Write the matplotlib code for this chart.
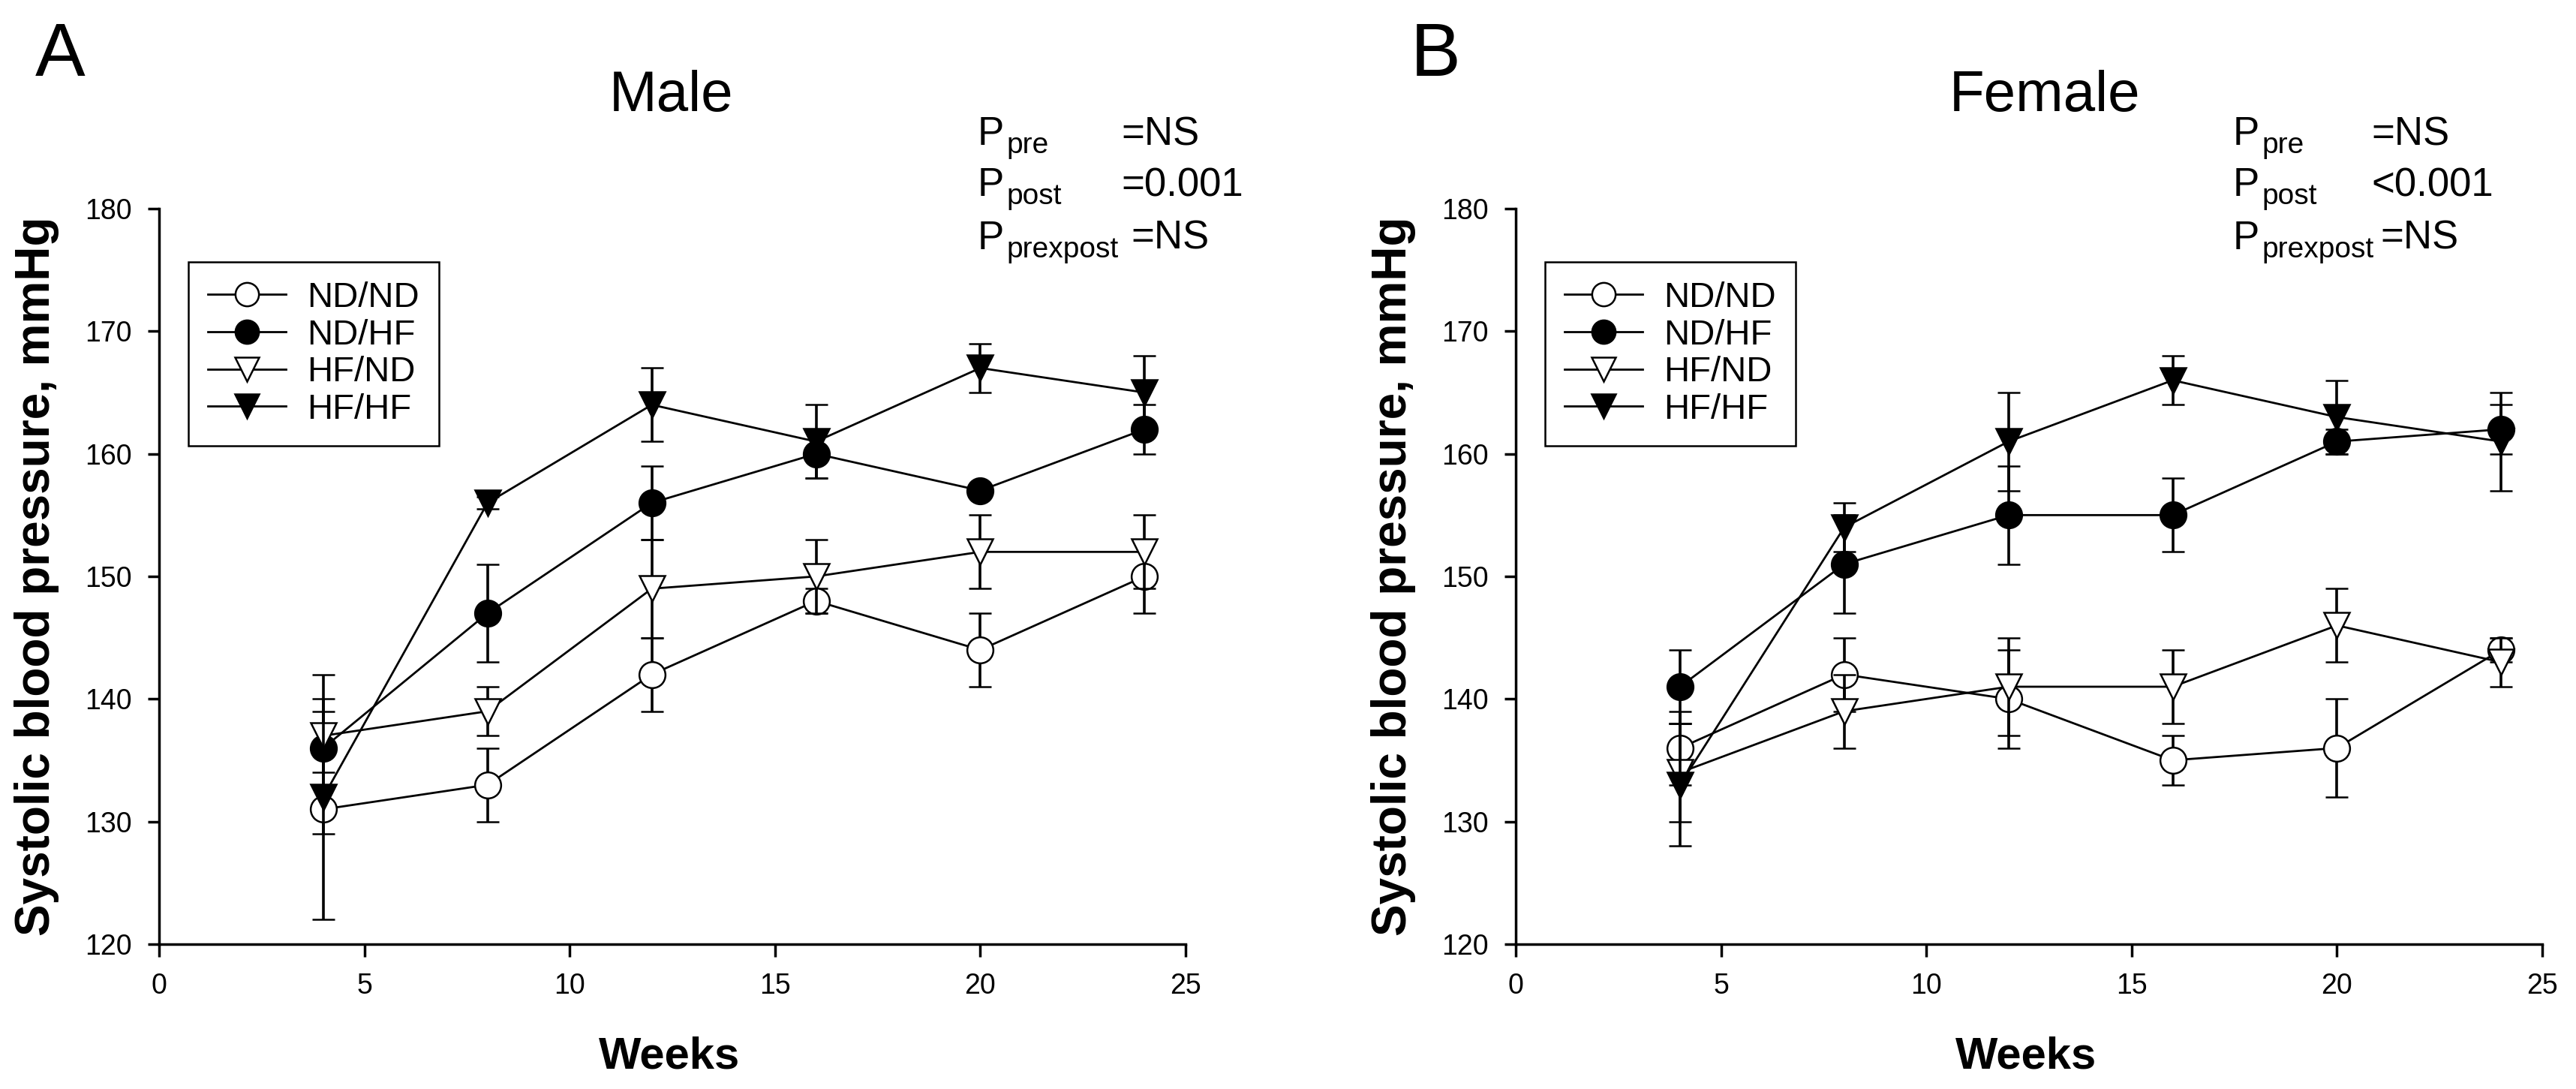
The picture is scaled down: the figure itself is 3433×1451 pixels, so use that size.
import matplotlib
matplotlib.use("Agg")
import matplotlib.pyplot as plt

plt.rcParams['font.family'] = ['Liberation Sans', 'DejaVu Sans']

# ---- data ----
weeks = [4, 8, 12, 16, 20, 24]
groups = ['ND/ND', 'ND/HF', 'HF/ND', 'HF/HF']

male_ndnd = [131, 133, 142, 148, 144, 150]
male_ndnd_err = [2, 3, 3, 1, 3, 3]
male_ndhf = [136, 147, 156, 160, 157, 162]
male_ndhf_err = [3, 4, 3, 2, 0.5, 2]
male_hfnd = [137, 139, 149, 150, 152, 152]
male_hfnd_err = [3, 2, 4, 3, 3, 3]
male_hfhf = [132, 156, 164, 161, 167, 165]
male_hfhf_err = [10, 0.5, 3, 3, 2, 3]

female_ndnd = [136, 142, 140, 135, 136, 144]
female_ndnd_err = [3, 3, 4, 2, 4, 1]
female_ndhf = [141, 151, 155, 155, 161, 162]
female_ndhf_err = [3, 4, 4, 3, 1, 2]
female_hfnd = [134, 139, 141, 141, 146, 143]
female_hfnd_err = [4, 3, 4, 3, 3, 2]
female_hfhf = [133, 154, 161, 166, 163, 161]
female_hfhf_err = [5, 2, 4, 2, 3, 4]

p_subs = ['pre', 'post', 'prexpost']
p_male = ['=NS', '=0.001', '=NS']
p_female = ['=NS', '<0.001', '=NS']

markers = ['o', 'o', 'v', 'v']
fills = ['white', 'black', 'white', 'black']

# ---- layout in pixels ----
W, H = 3433, 1451
fig = plt.figure(figsize=(W / 100, H / 100), dpi=100)


def fx(px):
    return px / W


def fy(py):
    return 1 - py / H


ax_w, ax_h = 1368, 980
ax_m = fig.add_axes([fx(212), fy(1258), ax_w / W, ax_h / H])
ax_f = fig.add_axes([fx(2020), fy(1258), ax_w / W, ax_h / H])


def draw_panel(ax, means, errs):
    handles = []
    for i, (m, e) in enumerate(zip(means, errs)):
        cont = ax.errorbar(weeks, m, yerr=e, color='black', lw=2,
                           marker=markers[i], ms=25, mfc=fills[i], mec='black',
                           mew=1.8, ecolor='black', elinewidth=2.6,
                           capsize=10.5, capthick=2.6, zorder=3 + i,
                           clip_on=False)
        handles.append(cont[0])

    ax.set_xlim(0, 25)
    ax.set_ylim(120, 180)
    ax.set_xticks(range(0, 26, 5))
    ax.set_yticks(range(120, 181, 10))
    for s in ['top', 'right']:
        ax.spines[s].set_visible(False)
    for s in ['left', 'bottom']:
        ax.spines[s].set_linewidth(2.5)
    ax.tick_params(axis='both', direction='out', width=2.5, labelsize=27, pad=15)
    ax.tick_params(axis='y', length=11)
    ax.tick_params(axis='x', length=12)

    ax.set_xlabel('Weeks', fontsize=43, fontweight='bold')
    ax.xaxis.set_label_coords(0.497, -0.1245)
    ax.set_ylabel('Systolic blood pressure, mmHg', fontsize=46, fontweight='bold')
    ax.yaxis.set_label_coords(-0.0975, 0.5)

    leg = ax.legend(handles, groups, loc='upper left',
                    bbox_to_anchor=(39 / ax_w, 1 - 71 / ax_h), borderaxespad=0,
                    fontsize=34, fancybox=False, edgecolor='black', framealpha=1,
                    borderpad=0.55, labelspacing=0.12, handlelength=2.2,
                    handletextpad=0.6, numpoints=1, markerscale=0.9)
    leg.get_frame().set_linewidth(1.8)


draw_panel(ax_m, [male_ndnd, male_ndhf, male_hfnd, male_hfhf],
           [male_ndnd_err, male_ndhf_err, male_hfnd_err, male_hfhf_err])
draw_panel(ax_f, [female_ndnd, female_ndhf, female_hfnd, female_hfhf],
           [female_ndnd_err, female_ndhf_err, female_hfnd_err, female_hfhf_err])

# panel letters and titles
fig.text(fx(47), fy(101), 'A', fontsize=72, va='baseline', ha='left')
fig.text(fx(1880), fy(101), 'B', fontsize=72, va='baseline', ha='left')
fig.text(fx(895), fy(148), 'Male', fontsize=55, va='baseline', ha='center')
fig.text(fx(2725), fy(148), 'Female', fontsize=55, va='baseline', ha='center')


# P-value blocks
def p_block(x0, eq_x, values):
    row_y = [193, 261, 332]
    for sub, val, y, ex in zip(p_subs, values, row_y, eq_x):
        fig.text(fx(x0), fy(y), 'P', fontsize=38, va='baseline')
        fig.text(fx(x0 + 38), fy(y + 11), sub, fontsize=28, va='baseline')
        fig.text(fx(ex), fy(y), val, fontsize=38, va='baseline')


p_block(1303, [1494, 1494, 1507], p_male)
p_block(2976, [3160, 3160, 3172], p_female)

fig.savefig('out.png', dpi=100)
